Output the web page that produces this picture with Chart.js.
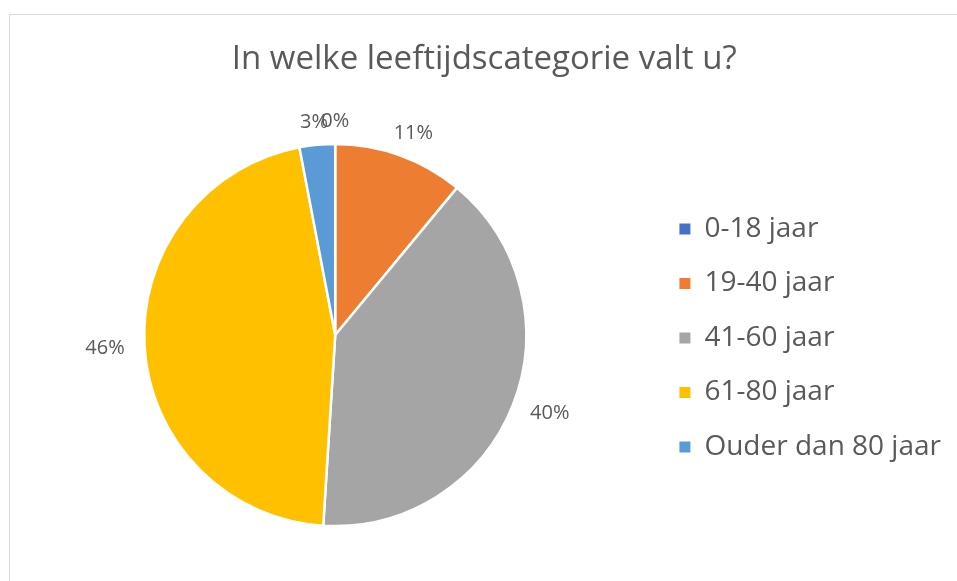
<!DOCTYPE html>
<html>
<head>
<meta charset="utf-8">
<script src="https://cdn.jsdelivr.net/npm/chart.js@4"></script>
<style>
  body { margin: 0; background: #fff; }
  .frame {
    position: absolute; left: 9px; top: 14px;
    width: 948px; height: 567px; box-sizing: border-box;
    border-top: 1px solid #d9d9d9; border-left: 1px solid #d9d9d9;
  }
</style>
</head>
<body>
<div class="frame"><canvas id="ageChart"></canvas></div>
<script>
const categories = ["0-18 jaar", "19-40 jaar", "41-60 jaar", "61-80 jaar", "Ouder dan 80 jaar"];
const shares = [0, 11, 40, 46, 3];
const colors = ["#4472C4", "#ED7D31", "#A5A5A5", "#FFC000", "#5B9BD5"];
const textColor = "#595959";
const fontName = "'Open Sans', sans-serif";

// percentage labels outside the slices
const pieLabels = {
  id: "pieLabels",
  afterDatasetsDraw(chart) {
    const ctx = chart.ctx;
    const values = chart.data.datasets[0].data;
    const total = values.reduce((a, b) => a + b, 0);
    ctx.save();
    ctx.font = "20px " + fontName;
    ctx.fillStyle = textColor;
    ctx.textAlign = "center";
    ctx.textBaseline = "middle";
    chart.getDatasetMeta(0).data.forEach((arc, i) => {
      const p = arc.getProps(["x", "y", "startAngle", "endAngle", "outerRadius"], true);
      const mid = (p.startAngle + p.endAngle) / 2;
      const txt = Math.round(values[i] / total * 100) + "%";
      const w = ctx.measureText(txt).width;
      const r = p.outerRadius + 20;
      const lx = p.x + Math.cos(mid) * r + Math.cos(mid) * w / 2;
      const ly = p.y + Math.sin(mid) * r + Math.sin(mid) * 3;
      ctx.fillText(txt, lx, ly);
    });
    ctx.restore();
  }
};

new Chart(document.getElementById("ageChart"), {
  type: "pie",
  data: {
    labels: categories,
    datasets: [{
      data: shares,
      backgroundColor: colors,
      borderColor: "#ffffff",
      borderWidth: 2.5
    }]
  },
  options: {
    responsive: true,
    maintainAspectRatio: false,
    animation: false,
    events: [],
    radius: 191,
    layout: { padding: { left: 7.5, right: 6, top: 0, bottom: 46 } },
    plugins: {
      title: {
        display: true,
        text: "In welke leeftijdscategorie valt u?",
        color: textColor,
        font: { family: fontName, size: 33, weight: "normal" },
        padding: { top: 25, bottom: 55.4 }
      },
      legend: {
        position: "right",
        fullSize: false,
        title: { display: true, text: " ", font: { size: 5 }, padding: 0 },
        labels: {
          boxWidth: 11,
          boxHeight: 11,
          padding: 26.5,
          color: textColor,
          font: { family: fontName, size: 28 },
          generateLabels: chart =>
            Chart.overrides.pie.plugins.legend.labels.generateLabels(chart)
              .map(l => ({ ...l, lineWidth: 0 }))
        }
      },
      tooltip: { enabled: false }
    }
  },
  plugins: [pieLabels]
});
</script>
</body>
</html>
